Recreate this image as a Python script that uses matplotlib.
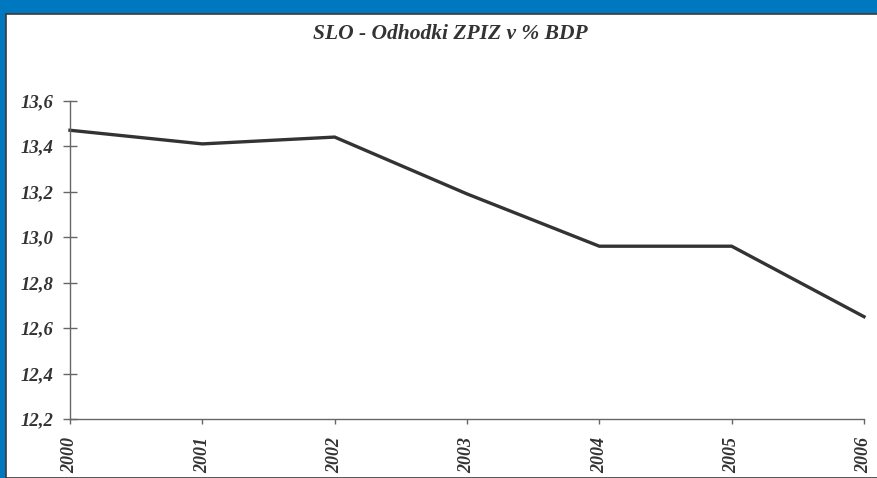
import matplotlib
matplotlib.use("Agg")
import matplotlib.pyplot as plt
from matplotlib.patches import Rectangle

years = ["2000", "2001", "2002", "2003", "2004", "2005", "2006"]
values = [13.47, 13.41, 13.44, 13.19, 12.96, 12.96, 12.65]
yticks = [12.2, 12.4, 12.6, 12.8, 13.0, 13.2, 13.4, 13.6]
ytick_labels = ["12,2", "12,4", "12,6", "12,8", "13,0", "13,2", "13,4", "13,6"]
title = "SLO - Odhodki ZPIZ v % BDP"

W, H = 878, 478
fig = plt.figure(figsize=(W / 100, H / 100), dpi=100)
fig.patch.set_facecolor("#0078c0")

# white panel
fig.patches.append(Rectangle((6.5 / W, 0), 1.0, (H - 13.5) / H, transform=fig.transFigure,
                             facecolor="white", edgecolor="#3a3a3a", linewidth=1.2, zorder=-10))

left, right = 70 / W, 864 / W
bottom, top = (H - 419) / H, (H - 100.7) / H
ax = fig.add_axes([left, bottom, right - left, top - bottom])
ax.set_facecolor("none")
ax.set_zorder(5)

x = list(range(len(years)))
ax.plot(x, values, color="#333333", linewidth=2.4, solid_joinstyle="miter", clip_on=False)

ax.set_xlim(0, len(years) - 1)
ax.set_ylim(12.2, 13.6)

ax.set_yticks(yticks)
ax.set_yticklabels(ytick_labels)
ax.set_xticks(x)
ax.set_xticklabels(years, rotation=90)

font = dict(family="Liberation Serif", weight="bold", style="italic")
for lbl in ax.get_yticklabels():
    lbl.set_fontfamily("Liberation Serif")
    lbl.set_fontweight("bold")
    lbl.set_fontstyle("italic")
    lbl.set_fontsize(13.5)
    lbl.set_color("#333333")
for lbl in ax.get_xticklabels():
    lbl.set_fontfamily("Liberation Serif")
    lbl.set_fontweight("bold")
    lbl.set_fontstyle("italic")
    lbl.set_fontsize(13)
    lbl.set_color("#333333")

ax.tick_params(axis="y", direction="inout", length=9.5, width=1, color="#666666", pad=7)
ax.tick_params(axis="x", direction="out", length=3.8, width=1, color="#666666", pad=9)

for s in ["top", "right"]:
    ax.spines[s].set_visible(False)
for s in ["left", "bottom"]:
    ax.spines[s].set_color("#666666")
    ax.spines[s].set_linewidth(1)

fig.text(450 / W, (H - 34) / H, title, ha="center", va="center", fontsize=15.5,
         color="#333333", **font)

fig.savefig("out.png", dpi=100, facecolor=fig.get_facecolor())
